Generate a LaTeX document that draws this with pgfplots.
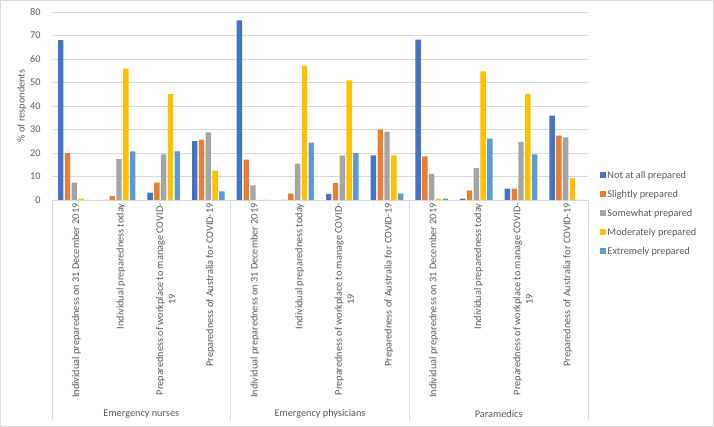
\documentclass[border=0pt]{standalone}
\usepackage{fontspec}
\setmainfont{Carlito}
\usepackage{pgfplots}
\pgfplotsset{compat=1.18}
\definecolor{c1}{HTML}{4472C4}
\definecolor{c2}{HTML}{ED7D31}
\definecolor{c3}{HTML}{A5A5A5}
\definecolor{c4}{HTML}{FFC000}
\definecolor{c5}{HTML}{5B9BD5}
\definecolor{txt}{HTML}{595959}
\definecolor{gridc}{HTML}{D9D9D9}
\begin{document}
\begin{tikzpicture}[font=\fontsize{10.3}{12.3}\selectfont, text=txt]
\path[use as bounding box] (0,0) rectangle (714bp,427bp);
\draw[gridc] (0.5bp,0.5bp) rectangle (713.5bp,426.5bp);
\begin{axis}[
  at={(52bp,227bp)}, anchor=south west,
  scale only axis, width=536bp, height=188bp,
  clip=false,
  ymin=0, ymax=80, ytick distance=10,
  xmin=-0.5, xmax=11.5,
  xtick={0,...,11},
  xticklabels={
    {Individual preparedness on 31 December 2019},
    {Individual preparedness today},
    {Preparedness of workplace to manage COVID-\\19},
    {Preparedness of Australia for COVID-19},
    {Individual preparedness on 31 December 2019},
    {Individual preparedness today},
    {Preparedness of workplace to manage COVID-\\19},
    {Preparedness of Australia for COVID-19},
    {Individual preparedness on 31 December 2019},
    {Individual preparedness today},
    {Preparedness of workplace to manage COVID-\\19},
    {Preparedness of Australia for COVID-19}},
  xticklabel style={rotate=90, anchor=east, align=center, text=txt, yshift=-2bp},
  yticklabel style={xshift=-8bp, text=txt},
  /pgf/number format/assume math mode=true,
  ybar=1.4bp, bar width=5.4bp,
  axis x line*=bottom, axis y line*=left,
  x axis line style={-, draw=gridc},
  y axis line style={draw=none},
  major tick length=0pt,
  ymajorgrids, grid style={draw=gridc},
  ylabel={\% of respondents},
  ylabel style={at={(axis description cs:-0.056,0.5)}, anchor=center, text=txt},
  legend style={at={(axis description cs:1.022,0.163)}, anchor=north west, draw=none, fill=none,
    font=\fontsize{10.3}{12.3}\selectfont, text=txt, row sep=7.4bp, inner sep=0pt,
    nodes={inner sep=1.5bp}},
  legend cell align=left,
  legend image code/.code={\fill[#1,draw=none] (0bp,-3bp) rectangle (6bp,3bp);},
]
\addplot[fill=c1, draw=none] coordinates {(0,68) (1,0) (2,3.1) (3,25.1) (4,76.4) (5,0) (6,2.6) (7,19.0) (8,68.2) (9,0.6) (10,4.8) (11,35.9)};
\addplot[fill=c2, draw=none] coordinates {(0,20.0) (1,1.8) (2,7.4) (3,25.7) (4,17.2) (5,2.7) (6,7.2) (7,29.9) (8,18.6) (9,4.1) (10,4.8) (11,27.4)};
\addplot[fill=c3, draw=none] coordinates {(0,7.4) (1,17.4) (2,19.4) (3,28.8) (4,6.2) (5,15.5) (6,19.0) (7,29.1) (8,11.1) (9,13.6) (10,24.7) (11,26.7)};
\addplot[fill=c4, draw=none] coordinates {(0,0.6) (1,55.9) (2,45.1) (3,12.5) (4,0) (5,57.1) (6,50.9) (7,19.0) (8,0.6) (9,54.7) (10,45.1) (11,9.2)};
\addplot[fill=c5, draw=none] coordinates {(0,0) (1,20.7) (2,20.7) (3,3.7) (4,0) (5,24.4) (6,20.0) (7,2.7) (8,0.6) (9,26.1) (10,19.4) (11,0)};
\legend{Not at all prepared, Slightly prepared, Somewhat prepared, Moderately prepared, Extremely prepared}
\end{axis}
\draw[gridc] (52bp,227bp) -- (52bp,7bp);
\draw[gridc] (230.67bp,227bp) -- (230.67bp,7bp);
\draw[gridc] (409.33bp,227bp) -- (409.33bp,7bp);
\draw[gridc] (588bp,227bp) -- (588bp,7bp);
\node[text=txt] at (141.3bp,13bp) {Emergency nurses};
\node[text=txt] at (320bp,13bp) {Emergency physicians};
\node[text=txt] at (498.7bp,13bp) {Paramedics};
\end{tikzpicture}
\end{document}
